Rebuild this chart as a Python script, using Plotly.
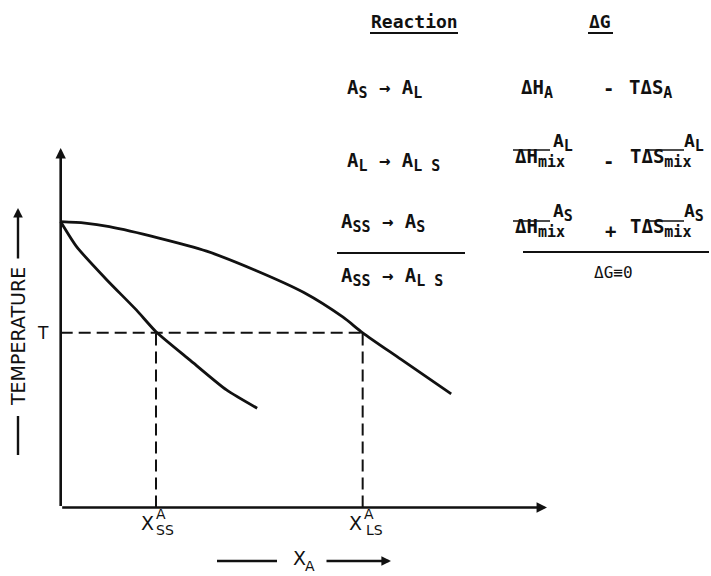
import plotly.graph_objects as go

# ---------------- data (arbitrary units: X_A fraction 0..1, temperature 0..1) -------------
liquidus_x = [0.0, 0.05, 0.10, 0.20, 0.30, 0.40, 0.50, 0.58, 0.621, 0.70, 0.803]
liquidus_t = [0.795, 0.791, 0.781, 0.750, 0.713, 0.660, 0.598, 0.530, 0.486, 0.412, 0.316]

solidus_x = [0.0, 0.033, 0.095, 0.156, 0.196, 0.266, 0.341, 0.404]
solidus_t = [0.795, 0.725, 0.633, 0.549, 0.489, 0.410, 0.327, 0.276]

T_level = 0.486
x_SS = 0.196
x_LS = 0.621

W, H = 711, 576
FONT_MONO = "DejaVu Sans Mono"
FONT_SANS = "DejaVu Sans"
INK = "#111111"

# axis ranges chosen so that the drawing occupies the same region as the reference
x_range = [-0.1248, 1.3373]
y_range = [-0.1905, 1.4117]

fig = go.Figure()

fig.add_trace(go.Scatter(x=liquidus_x, y=liquidus_t, mode="lines",
                         line=dict(color=INK, width=2.8, shape="spline", smoothing=0.8),
                         hoverinfo="skip", showlegend=False))
fig.add_trace(go.Scatter(x=solidus_x, y=solidus_t, mode="lines",
                         line=dict(color=INK, width=2.8, shape="spline", smoothing=0.6),
                         hoverinfo="skip", showlegend=False))

dash = "12px,6px"
fig.add_trace(go.Scatter(x=[0, x_LS], y=[T_level, T_level], mode="lines",
                         line=dict(color=INK, width=2, dash=dash), hoverinfo="skip", showlegend=False))
fig.add_trace(go.Scatter(x=[x_SS, x_SS], y=[0, T_level], mode="lines",
                         line=dict(color=INK, width=2, dash=dash), hoverinfo="skip", showlegend=False))
fig.add_trace(go.Scatter(x=[x_LS, x_LS], y=[0, T_level], mode="lines",
                         line=dict(color=INK, width=2, dash=dash), hoverinfo="skip", showlegend=False))


def P(px, py):
    return px / W, 1 - py / H


ann = []
shapes = []

# axes with arrows (data coordinates)
ann.append(dict(x=0, y=1.0, ax=0, ay=0, xref="x", yref="y", axref="x", ayref="y",
                showarrow=True, arrowhead=2, arrowsize=0.8, arrowwidth=2.6, arrowcolor=INK, text=""))
ann.append(dict(x=1.0, y=0, ax=0, ay=0, xref="x", yref="y", axref="x", ayref="y",
                showarrow=True, arrowhead=2, arrowsize=0.8, arrowwidth=2.6, arrowcolor=INK, text=""))


def sb(s, k=15):
    return f'<sub><span style="font-size:{k}px">{s}</span></sub>'


def text(px, py, s, size=19, anchor="left", font=FONT_MONO, angle=0, bold=True):
    x, y = P(px, py)
    ann.append(dict(x=x, y=y, xref="paper", yref="paper", text=s, showarrow=False,
                    xanchor=anchor, yanchor="middle", textangle=angle,
                    font=dict(family=font, size=size, color=INK,
                              weight="bold" if bold else "normal")))


def hline(x0, x1, y, w=2):
    a0, b0 = P(x0, y)
    a1, _ = P(x1, y)
    shapes.append(dict(type="line", xref="paper", yref="paper", x0=a0, x1=a1, y0=b0, y1=b0,
                       line=dict(color=INK, width=w)))


def vline(x, y0, y1, w=2):
    a0, b0 = P(x, y0)
    _, b1 = P(x, y1)
    shapes.append(dict(type="line", xref="paper", yref="paper", x0=a0, x1=a0, y0=b0, y1=b1,
                       line=dict(color=INK, width=w)))


# ---- table header
text(414, 21, "Reaction", size=18, anchor="center")
hline(370, 458, 33)
text(600, 21, "ΔG", size=18, anchor="center")
hline(588, 613, 33)

# ---- row 1
text(345, 89, "A" + sb("S") + " → A" + sb("L"))
text(519, 89, "ΔH" + sb("A"))
text(608, 88, "-", anchor="center")
text(627, 89, "TΔS" + sb("A"))

# ---- row 2
text(345, 162, "A" + sb("L") + " → A" + sb("L S"))
text(513, 158, "ΔH" + sb("mix"))
hline(513, 550, 150, 1.5)
text(551, 142, "A" + sb("L"), size=18)
text(608, 161, "-", anchor="center")
text(628, 158, "TΔS" + sb("mix"))
hline(645, 684, 150, 1.5)
text(682, 142, "A" + sb("L"), size=18)

# ---- row 3
text(339, 223, "A" + sb("SS") + " → A" + sb("S"))
hline(337, 465, 253, 2)
text(339, 277, "A" + sb("SS") + " → A" + sb("L S"))
text(513, 228, "ΔH" + sb("mix"))
hline(513, 550, 221, 1.5)
text(551, 212, "A" + sb("S"), size=18)
text(610, 231, "+", anchor="center")
text(628, 228, "TΔS" + sb("mix"))
hline(645, 684, 221, 1.5)
text(682, 212, "A" + sb("S"), size=18)
hline(523, 709, 252, 2)
text(613, 273, "ΔG≡0", size=16, anchor="center", bold=False)

# ---- temperature label
text(18, 337, "TEMPERATURE", size=19, anchor="center", font=FONT_SANS, angle=-90, bold=False)
x0, y0 = P(18, 208)
ann.append(dict(x=x0, y=y0, xref="paper", yref="paper", ax=0, ay=52, text="", showarrow=True,
                arrowhead=2, arrowsize=0.8, arrowwidth=2.4, arrowcolor=INK))
vline(18, 416, 455, 2.4)
text(43, 333, "T", size=17, anchor="center", font=FONT_SANS, bold=False)

# ---- x labels
text(147, 523, "X", size=19, anchor="center", font=FONT_SANS, bold=False)
text(161, 514, "A", size=14, anchor="center", font=FONT_SANS, bold=False)
text(165, 530, "SS", size=14, anchor="center", font=FONT_SANS, bold=False)
text(355, 523, "X", size=19, anchor="center", font=FONT_SANS, bold=False)
text(369, 514, "A", size=14, anchor="center", font=FONT_SANS, bold=False)
text(374, 530, "LS", size=14, anchor="center", font=FONT_SANS, bold=False)

hline(217, 277, 561, 2.4)
text(299, 558, "X", size=19, anchor="center", font=FONT_SANS, bold=False)
text(310, 566, "A", size=14, anchor="center", font=FONT_SANS, bold=False)
xa, ya = P(391, 561)
ann.append(dict(x=xa, y=ya, xref="paper", yref="paper", ax=-66, ay=0, text="", showarrow=True,
                arrowhead=2, arrowsize=0.8, arrowwidth=2.4, arrowcolor=INK))

fig.update_layout(
    width=W, height=H, margin=dict(l=0, r=0, t=0, b=0),
    paper_bgcolor="white", plot_bgcolor="white",
    xaxis=dict(range=x_range, visible=False, fixedrange=True),
    yaxis=dict(range=y_range, visible=False, fixedrange=True),
    annotations=ann, shapes=shapes, showlegend=False,
)

fig.write_html("out.html")
